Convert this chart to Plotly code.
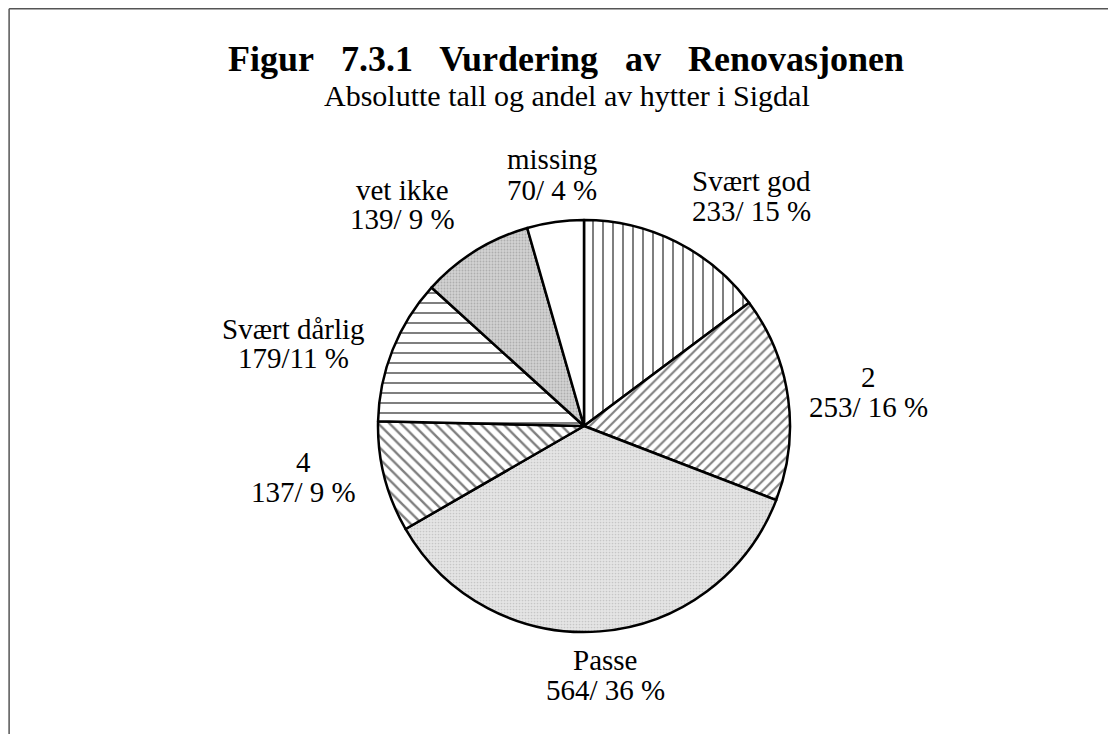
import plotly.graph_objects as go

# ── Data ──────────────────────────────────────────────────────────────────────
CATEGORIES = ["Svært god", "2", "Passe", "4", "Svært dårlig", "vet ikke", "missing"]
COUNTS = [233, 253, 564, 137, 179, 139, 70]
PERCENTS = ["15", "16", "36", "9", "11", "9", "4"]
SEPARATORS = ["/ ", "/ ", "/ ", "/ ", "/", "/ ", "/ "]

# ── Styling (fill patterns per slice, label placement in page px) ────────────
BG = ["white", "white", "#e4e4e4", "white", "white", "#d2d2d2", "white"]
SHAPES = ["|", "/", ".", "\\", "-", ".", ""]
PAT_SIZE = [10, 7, 3, 8, 10, 3, 8]
PAT_SOLID = [0.2, 0.3, 0.25, 0.3, 0.2, 0.3, 0.2]
PAT_FG = ["black", "black", "#a8a8a8", "black", "black", "#8a8a8a", "black"]
# (x centre, y of first line, y of second line)
LABEL_POS = [(751, 181, 211), (868, 377, 407), (605, 660, 690), (303, 462, 492),
             (293, 329, 358), (402, 190, 219), (552, 159, 190)]

PAGE_MARGIN = 8          # browser body margin around the plot div
W, H = 1116 - PAGE_MARGIN, 734 - PAGE_MARGIN
CX, CY, R = 584, 426, 206
FONT = "Liberation Serif"


def px(x):
    return (x - PAGE_MARGIN) / W


def py(y):
    return 1 - (y - PAGE_MARGIN) / H


fig = go.Figure(go.Pie(
    labels=CATEGORIES,
    values=COUNTS,
    sort=False,
    direction="clockwise",
    rotation=0,
    textinfo="none",
    hoverinfo="label+value+percent",
    showlegend=False,
    domain=dict(x=[px(CX - R), px(CX + R)], y=[py(CY + R), py(CY - R)]),
    marker=dict(
        colors=BG,
        line=dict(color="black", width=2.5),
        pattern=dict(shape=SHAPES, size=PAT_SIZE, solidity=PAT_SOLID,
                     fgcolor=PAT_FG, fillmode="overlay"),
    ),
))

# slice labels: name on one line, "count/ pct %" below
for cat, n, pct, sep, (lx, y1, y2) in zip(CATEGORIES, COUNTS, PERCENTS, SEPARATORS, LABEL_POS):
    for txt, ly in ((cat, y1), (f"{n}{sep}{pct} %", y2)):
        fig.add_annotation(
            x=px(lx), y=py(ly), xref="paper", yref="paper",
            text=txt, showarrow=False, xanchor="center", yanchor="middle",
            font=dict(family=FONT, size=29, color="black"),
        )

# title + subtitle
fig.add_annotation(
    x=px(566), y=py(59), xref="paper", yref="paper",
    text="<b>Figur\u00a0\u00a0 7.3.1\u00a0\u00a0 Vurdering\u00a0\u00a0 av\u00a0\u00a0 Renovasjonen</b>",
    showarrow=False, xanchor="center", yanchor="middle",
    font=dict(family=FONT, size=36, color="black"),
)
fig.add_annotation(
    x=px(567), y=py(95), xref="paper", yref="paper",
    text="Absolutte tall og andel av hytter i Sigdal",
    showarrow=False, xanchor="center", yanchor="middle",
    font=dict(family=FONT, size=30, color="black"),
)

# scanned page frame (top and left edges, as close to the page edge as possible)
fig.add_shape(type="line", xref="paper", yref="paper",
              x0=0.001, x1=1, y0=0.999, y1=0.999,
              line=dict(color="#555555", width=1.5))
fig.add_shape(type="line", xref="paper", yref="paper",
              x0=0.001, x1=0.001, y0=0.999, y1=0,
              line=dict(color="#555555", width=1.5))

fig.update_layout(
    width=W, height=H,
    margin=dict(l=0, r=0, t=0, b=0),
    paper_bgcolor="white",
    plot_bgcolor="white",
)

fig.write_html("out.html")
